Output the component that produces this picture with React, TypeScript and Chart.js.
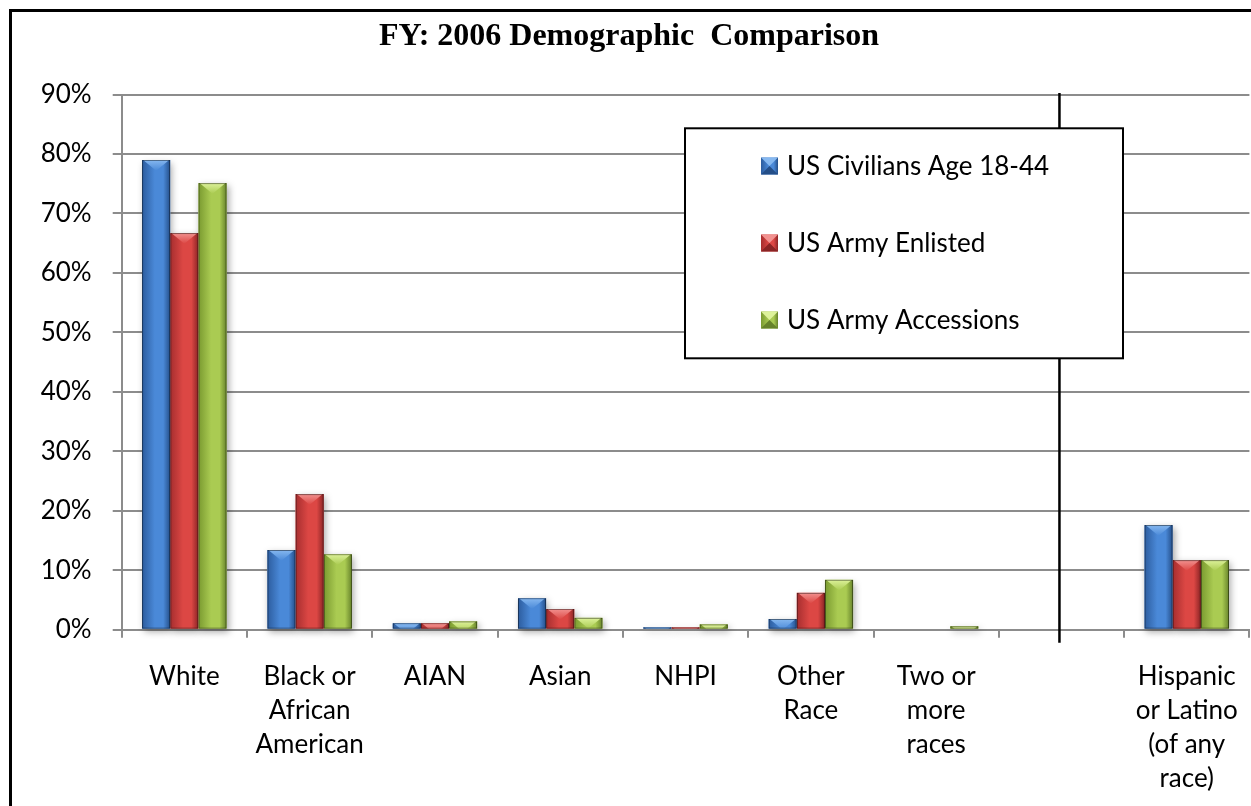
import React, { useEffect, useRef } from "react";
import { Chart, registerables } from "chart.js";
Chart.register(...registerables);

const chartTitle = "FY: 2006 Demographic  Comparison";
const categories: string[][] = [
  ["White"],
  ["Black or", "African", "American"],
  ["AIAN"],
  ["Asian"],
  ["NHPI"],
  ["Other", "Race"],
  ["Two or", "more", "races"],
  [""],
  ["Hispanic", "or Latino", "(of any", "race)"],
];
const seriesNames = ["US Civilians Age 18-44", "US Army Enlisted", "US Army Accessions"];
const civilians = [79.0, 13.4, 1.1, 5.3, 0.4, 1.8, 0, null, 17.6];
const enlisted = [66.7, 22.8, 1.1, 3.5, 0.4, 6.2, 0, null, 11.7];
const accessions = [75.1, 12.7, 1.4, 2.0, 0.9, 8.4, 0.6, null, 11.7];
const yTickValues = [0, 10, 20, 30, 40, 50, 60, 70, 80, 90];
const separatorIndex = 7;

const palette = [
  { base: "#3A74C0", left: "#2C5C9E", mid: "#4A89D8", right: "#244E88", light: "#86B8F0" },
  { base: "#C63C3C", left: "#A62E2F", mid: "#DC4744", right: "#8A2425", light: "#F29290" },
  { base: "#95B640", left: "#7A9A30", mid: "#AACB52", right: "#66822A", light: "#DDF29A" },
];

const FONT = "Lato, 'Open Sans', sans-serif";

function barGradient(ctx: CanvasRenderingContext2D, l: number, r: number, p: any) {
  const g = ctx.createLinearGradient(l, 0, r, 0);
  g.addColorStop(0, p.left);
  g.addColorStop(0.45, p.mid);
  g.addColorStop(0.75, p.mid);
  g.addColorStop(1, p.right);
  return g;
}

const decorPlugin = {
  id: "decor",
  beforeDraw(chart: any) {
    const ctx = chart.ctx;
    ctx.save();
    ctx.fillStyle = "#ffffff";
    ctx.fillRect(0, 0, chart.width, chart.height);
    ctx.fillStyle = "#000000";
    ctx.fillRect(9, 9, chart.width, 3);
    ctx.fillRect(9, 9, 3, chart.height);
    ctx.font = `bold 32px 'Liberation Serif', 'Times New Roman', serif`;
    ctx.textAlign = "center";
    ctx.textBaseline = "middle";
    ctx.fillText(chartTitle, 629, 37);
    ctx.restore();
  },
  beforeDatasetsDraw(chart: any) {
    const ctx = chart.ctx;
    ctx.save();
    chart.data.datasets.forEach((ds: any, di: number) => {
      const meta = chart.getDatasetMeta(di);
      meta.data.forEach((el: any) => {
        const { x, y, base, width } = el.getProps(["x", "y", "base", "width"], true);
        const h = base - y;
        if (!(h > 0.5)) return;
        ctx.shadowColor = "rgba(0,0,0,0.35)";
        ctx.shadowBlur = 7;
        ctx.shadowOffsetX = 2;
        ctx.shadowOffsetY = 3;
        ctx.fillStyle = "#ffffff";
        ctx.fillRect(x - width / 2, y, width, h);
      });
    });
    ctx.restore();
  },
  afterDatasetsDraw(chart: any) {
    const ctx = chart.ctx;
    chart.data.datasets.forEach((ds: any, di: number) => {
      const p = palette[di];
      const meta = chart.getDatasetMeta(di);
      meta.data.forEach((el: any) => {
        const { x, y, base, width } = el.getProps(["x", "y", "base", "width"], true);
        const h = base - y;
        if (!(h > 0.5)) return;
        const l = x - width / 2;
        const r = x + width / 2;
        ctx.save();
        ctx.beginPath();
        ctx.rect(l, y, width, h);
        ctx.clip();
        ctx.fillStyle = barGradient(ctx, l, r, p);
        ctx.fillRect(l, y, width, h);
        const d = width * 0.38;
        const tg = ctx.createLinearGradient(0, y, 0, y + d);
        tg.addColorStop(0, p.light);
        tg.addColorStop(1, p.mid);
        ctx.fillStyle = tg;
        ctx.beginPath();
        ctx.moveTo(l + 1, y);
        ctx.lineTo(r - 1, y);
        ctx.lineTo(x, y + d);
        ctx.closePath();
        ctx.fill();
        ctx.strokeStyle = "rgba(0,0,0,0.45)";
        ctx.lineWidth = 1;
        ctx.strokeRect(l + 0.5, y + 0.5, width - 1, h - 1);
        ctx.restore();
      });
    });
  },
  afterDraw(chart: any) {
    const ctx = chart.ctx;
    const area = chart.chartArea;
    const xs = chart.scales.x;
    ctx.save();
    // separator line
    const sx = xs.getPixelForValue(separatorIndex) - 2;
    ctx.strokeStyle = "#000000";
    ctx.lineWidth = 2.5;
    ctx.beginPath();
    ctx.moveTo(sx, area.top - 1.5);
    ctx.lineTo(sx, area.bottom + 13);
    ctx.stroke();
    // legend box
    const bl = area.left + 563.3;
    const bt = area.top + 33.8;
    const bw = 438;
    const bh = 230;
    ctx.fillStyle = "#ffffff";
    ctx.fillRect(bl, bt, bw, bh);
    ctx.lineWidth = 2;
    ctx.strokeRect(bl, bt, bw, bh);
    ctx.font = `26px ${FONT}`;
    ctx.textAlign = "left";
    ctx.textBaseline = "middle";
    chart.data.datasets.forEach((ds: any, di: number) => {
      const p = palette[di];
      const cy = area.top + 71.5 + di * 77;
      const sqx = bl + 76;
      const s = 17;
      const sy = cy - s / 2;
      ctx.fillStyle = barGradient(ctx, sqx, sqx + s, p);
      ctx.fillRect(sqx, sy, s, s);
      ctx.fillStyle = p.light;
      ctx.beginPath();
      ctx.moveTo(sqx, sy);
      ctx.lineTo(sqx + s, sy);
      ctx.lineTo(sqx + s / 2, sy + s / 2);
      ctx.closePath();
      ctx.fill();
      ctx.fillStyle = p.right;
      ctx.beginPath();
      ctx.moveTo(sqx, sy + s);
      ctx.lineTo(sqx + s, sy + s);
      ctx.lineTo(sqx + s / 2, sy + s / 2);
      ctx.closePath();
      ctx.fill();
      ctx.fillStyle = "#000000";
      ctx.fillText(ds.label, sqx + 26, cy + 1);
    });
    ctx.restore();
  },
};

export default function App() {
  const ref = useRef<HTMLCanvasElement | null>(null);
  useEffect(() => {
    document.body.style.margin = "0";
    const canvas = ref.current;
    if (!canvas) return;
    const datasets = [civilians, enlisted, accessions].map((vals, i) => ({
      label: seriesNames[i],
      data: vals,
      backgroundColor: palette[i].base,
      borderWidth: 0,
      barPercentage: 1,
      categoryPercentage: 0.675,
    }));
    const chart = new Chart(canvas, {
      type: "bar",
      data: { labels: categories, datasets },
      options: {
        animation: false,
        responsive: false,
        maintainAspectRatio: false,
        devicePixelRatio: 1,
        layout: { padding: { top: 94.5, right: 1.6, left: 0, bottom: 0 } },
        plugins: {
          legend: { display: false },
          title: { display: false },
          tooltip: { enabled: false },
        },
        scales: {
          x: {
            grid: {
              drawOnChartArea: false,
              drawTicks: true,
              tickLength: 8,
              color: "#8c8c8c",
              lineWidth: 2,
            },
            border: { display: true, color: "#8c8c8c", width: 2 },
            ticks: {
              color: "#000000",
              font: { family: FONT, size: 26, lineHeight: 1.31 },
              padding: 22,
              maxRotation: 0,
              autoSkip: false,
            },
            afterFit(scale: any) {
              scale.height = 176.3;
              scale.paddingLeft = 0;
              scale.paddingRight = 0;
            },
          },
          y: {
            min: 0,
            max: 90,
            afterBuildTicks(scale: any) {
              scale.ticks = yTickValues.map((v) => ({ value: v }));
            },
            grid: { color: "#8c8c8c", lineWidth: 2, tickLength: 9 },
            border: { display: true, color: "#8c8c8c", width: 2 },
            ticks: {
              color: "#000000",
              font: { family: FONT, size: 26 },
              padding: 21,
              callback: (v: any) => `${v}%`,
            },
            afterFit(scale: any) {
              scale.width = 121.7;
            },
          },
        },
      },
      plugins: [decorPlugin],
    } as any);
    return () => chart.destroy();
  }, []);
  return <canvas ref={ref} width={1251} height={806} style={{ display: "block" }} />;
}
